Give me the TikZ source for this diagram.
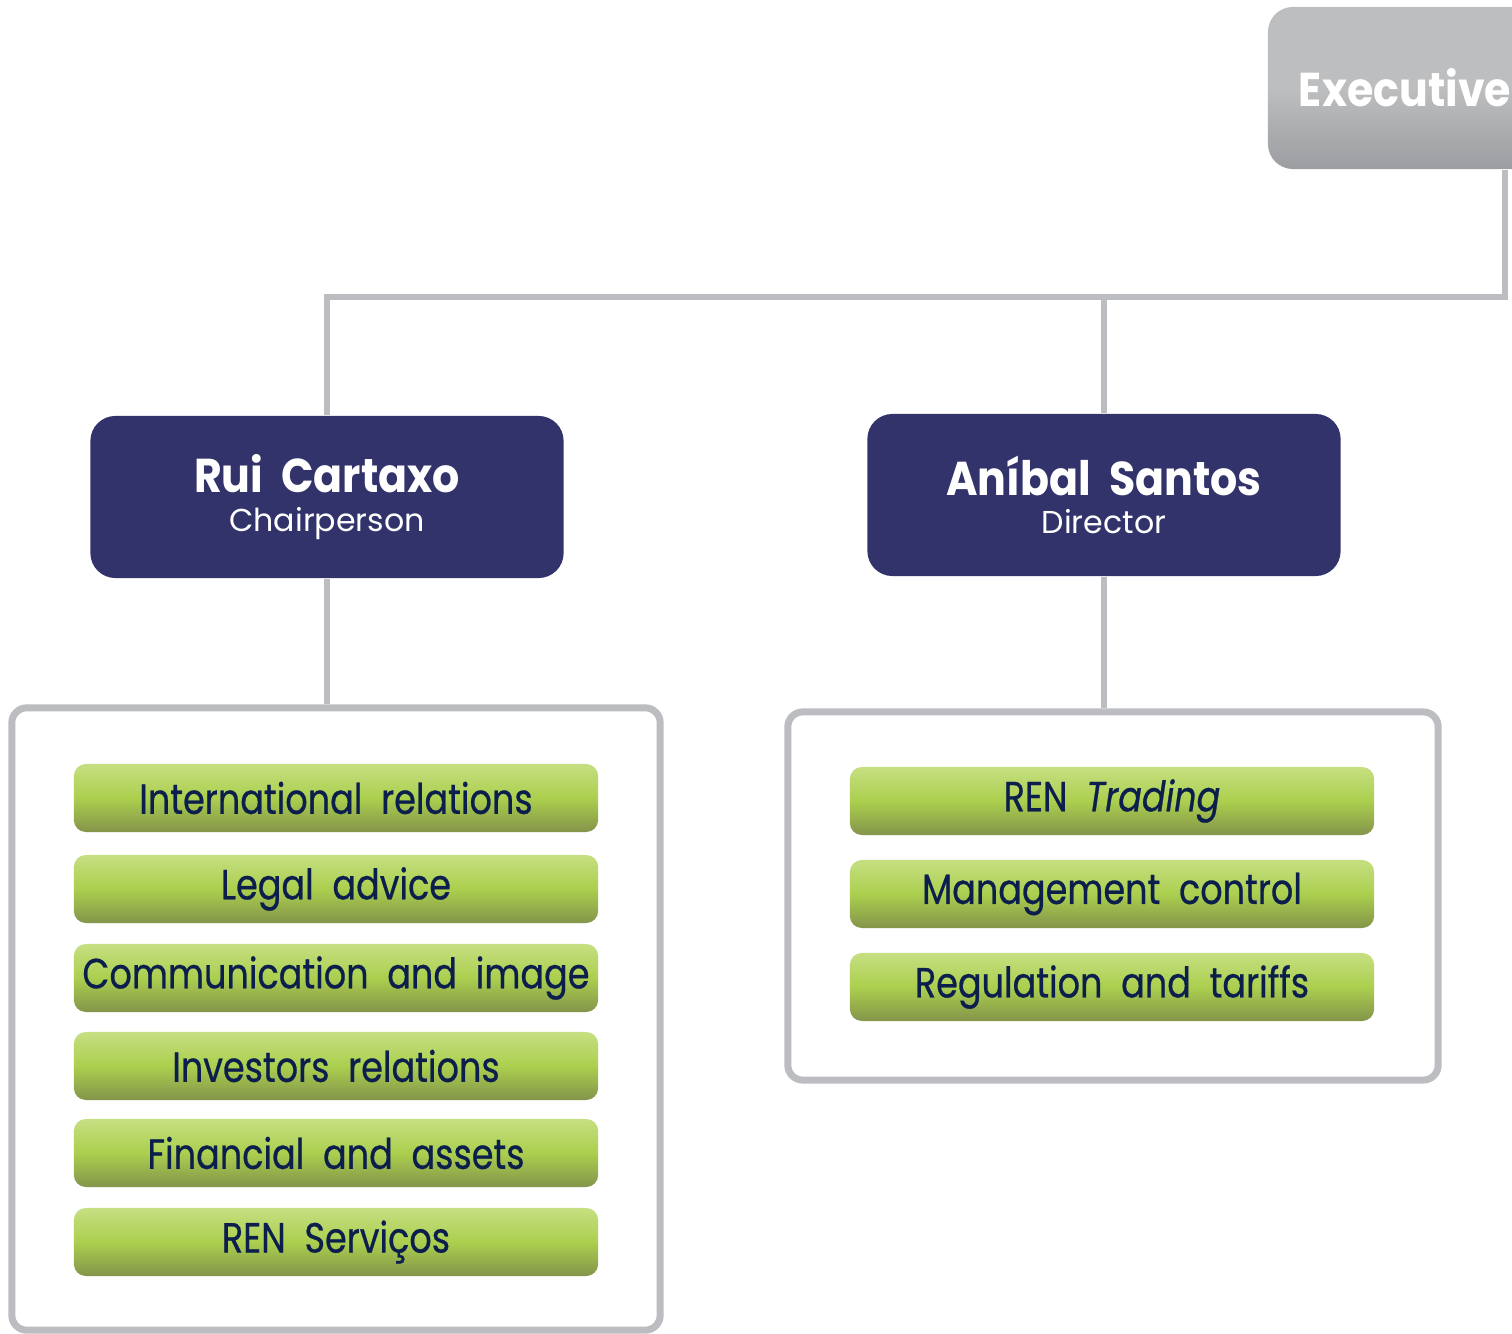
\documentclass[tikz,border=0pt]{standalone}
\usepackage{fontspec}
\setmainfont[FakeStretch=0.83, FakeBold=0.6]{Poppins}
\newfontfamily\namefont[FakeStretch=0.9]{Poppins}
\newfontfamily\titlefont{Poppins}
\usetikzlibrary{positioning}

\definecolor{linegray}{HTML}{BCBDC0}
\definecolor{execgray}{HTML}{BDBEC0}
\definecolor{execdark}{HTML}{9C9DA0}
\definecolor{boardblue}{HTML}{33336C}
\definecolor{textnavy}{HTML}{0C1F4C}
\definecolor{greentop}{HTML}{C6DF82}
\definecolor{greenmid}{HTML}{ABCF4E}
\definecolor{greenbot}{HTML}{84944A}

\tikzset{
  conn/.style={draw=linegray, line width=0.06cm},
  execbox/.style={rectangle, rounded corners=0.25cm, top color=execgray, bottom color=execdark,
    middle color=execgray, minimum width=2.74cm, minimum height=1.62cm,
    text=white, font=\namefont\fontsize{13.5}{15}\selectfont\bfseries},
  board/.style={rectangle, rounded corners=0.25cm, fill=boardblue, minimum width=4.73cm,
    minimum height=1.62cm, text=white, align=center},
  frame/.style={rectangle, rounded corners=0.15cm, draw=linegray, line width=0.07cm, fill=white},
  unitbox/.style={rectangle, rounded corners=0.12cm, top color=greentop, bottom color=greenbot,
    middle color=greenmid, minimum width=5.24cm, minimum height=0.68cm, inner sep=0pt,
    text=textnavy, font=\fontsize{12}{14}\selectfont}
}

\begin{document}
\begin{tikzpicture}[x=0.01cm,y=-0.01cm]
\useasboundingbox (0,0) rectangle (1512,1334);
\clip (0,0) rectangle (1512,1334);

\node[execbox] (exec) at (1405,88) {Executive};

\node[board] (rui) at (327,497) {{\namefont\fontsize{13.5}{15}\selectfont\bfseries Rui\ \ Cartaxo}\\[-1pt]
  {\titlefont\fontsize{9}{10}\selectfont Chairperson}};
\node[board] (anibal) at (1104,495) {{\namefont\fontsize{13.5}{15}\selectfont\bfseries Aníbal\ \ Santos}\\[-1pt]
  {\titlefont\fontsize{9}{10}\selectfont Director}};

\node[frame, minimum width=6.48cm, minimum height=6.22cm] (left) at (336,1019) {};
\node[frame, minimum width=6.5cm, minimum height=3.68cm] (right) at (1113,896) {};

\coordinate (bus) at (1505,297);
\draw[conn] (exec.south -| bus) -- (bus) -| (rui.north);
\draw[conn] (anibal.north) -- (anibal.north |- bus);
\draw[conn] (rui.south) -- (rui.south |- left.north);
\draw[conn] (anibal.south) -- (anibal.south |- right.north);

\node[unitbox] (intl) at (336,798) {International\ \ relations};
\node[unitbox] (legal) at (336,889) {Legal\ \ advice};
\node[unitbox] (comm) at (336,978) {Communication\ \ and\ \ image};
\node[unitbox] (inv) at (336,1066) {Investors\ \ relations};
\node[unitbox] (fin) at (336,1153) {Financial\ \ and\ \ assets};
\node[unitbox] (serv) at (336,1242) {REN\ \ Serviços};

\node[unitbox] (trad) at (1112,801) {REN\ \ \textit{Trading}};
\node[unitbox] (mgmt) at (1112,894) {Management\ \ control};
\node[unitbox] (reg) at (1112,987) {Regulation\ \ and\ \ tariffs};
\end{tikzpicture}
\end{document}
